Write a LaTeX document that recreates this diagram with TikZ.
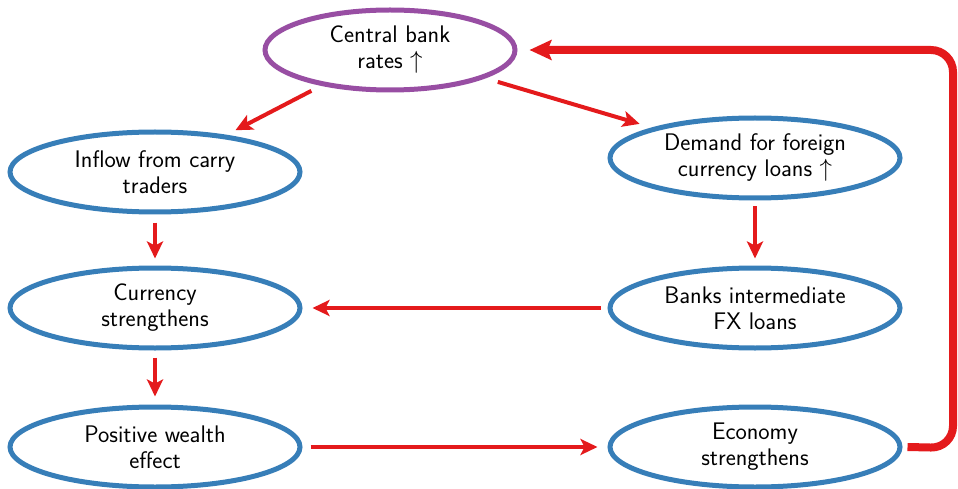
\documentclass[tikz,border=0pt]{standalone}
\usetikzlibrary{shapes.geometric,arrows.meta}
\definecolor{cblue}{HTML}{377EB8}
\definecolor{cpurple}{HTML}{984EA3}
\definecolor{cred}{HTML}{E41A1C}
\begin{document}
\begin{tikzpicture}[x=1pt,y=-1pt,
  ell/.style={ellipse, draw=cblue, line width=5pt, minimum width=290pt, minimum height=80pt,
    inner sep=0pt, align=center, font=\sffamily\fontsize{24}{26}\selectfont},
  arr/.style={draw=cred, line width=4pt, -{Stealth[length=17pt,width=16pt,inset=4pt]}},
  fb/.style={draw=cred, line width=8pt, rounded corners=22pt, -{Stealth[length=22pt,width=20pt,inset=4pt]}}]
\useasboundingbox (0,0) rectangle (958,489);
\node[ell, draw=cpurple, minimum width=250pt] (cb) at (390,50) {Central bank\\rates $\uparrow$};
\node[ell] (inflow) at (155,172) {Inflow from carry\\traders};
\node[ell] (demand) at (755,158) {Demand for foreign\\currency loans $\uparrow$};
\node[ell] (cur) at (155,308) {Currency\\strengthens};
\node[ell] (banks) at (755,308) {Banks intermediate\\FX loans};
\node[ell] (pos) at (155,447) {Positive wealth\\effect};
\node[ell] (eco) at (755,447) {Economy\\strengthens};
\coordinate (c1) at (953,448);
\coordinate (c2) at (953,50);
\draw[arr, shorten <=11pt, shorten >=10pt] (cb) -- (inflow);
\draw[arr, shorten <=13pt, shorten >=13pt] (cb) -- (demand);
\draw[arr, shorten <=8pt, shorten >=7pt] (inflow) -- (cur);
\draw[arr, shorten <=6pt, shorten >=7pt] (demand) -- (banks);
\draw[arr, shorten <=7pt, shorten >=8pt] (cur) -- (pos);
\draw[arr, shorten <=7pt, shorten >=10pt] (banks) -- (cur);
\draw[arr, shorten <=8pt, shorten >=10pt] (pos) -- (eco);
\draw[fb] ([xshift=5pt]eco.east) -- (c1) -- (c2) -- ([xshift=12pt]cb.east);
\end{tikzpicture}
\end{document}
